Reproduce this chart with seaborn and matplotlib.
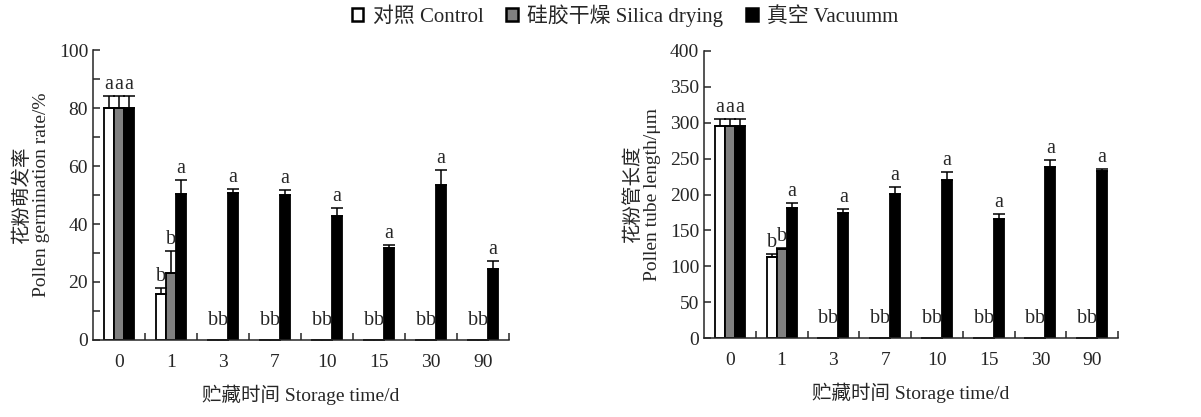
import pandas as pd
import matplotlib
matplotlib.use('Agg')
import matplotlib.pyplot as plt
import seaborn as sns
from matplotlib.ticker import MultipleLocator, FixedLocator

# Daten
times = ['0', '1', '3', '7', '10', '15', '30', '90']
treatments = ['对照 Control', '硅胶干燥 Silica drying', '真空 Vacuumm']
colors = ['white', '#808080', 'black']

germ_control = [80, 15.7, 0, 0, 0, 0, 0, 0]
germ_silica = [80, 23.2, 0, 0, 0, 0, 0, 0]
germ_vacuum = [80, 50.2, 50.6, 50.1, 42.8, 31.6, 53.6, 24.5]
germ_err_control = [4.1, 2.3, 0, 0, 0, 0, 0, 0]
germ_err_silica = [4.1, 7.6, 0, 0, 0, 0, 0, 0]
germ_err_vacuum = [4.1, 5.0, 1.6, 1.6, 2.8, 1.2, 5.0, 2.8]

tube_control = [295.5, 113.3, 0, 0, 0, 0, 0, 0]
tube_silica = [295.5, 124.5, 0, 0, 0, 0, 0, 0]
tube_vacuum = [295.5, 181.6, 174.7, 200.7, 219.8, 166.3, 238.8, 232.8]
tube_err_control = [9.5, 3.3, 0, 0, 0, 0, 0, 0]
tube_err_silica = [9.5, 1.5, 0, 0, 0, 0, 0, 0]
tube_err_vacuum = [9.5, 7.0, 5.1, 10.2, 11.1, 6.5, 9.7, 2.3]

letters_control = ['a', 'b', 'b', 'b', 'b', 'b', 'b', 'b']
letters_silica = ['a', 'b', 'b', 'b', 'b', 'b', 'b', 'b']
letters_vacuum = ['a', 'a', 'a', 'a', 'a', 'a', 'a', 'a']

sns.set_style('ticks')
plt.rcParams['font.family'] = ['Liberation Serif', 'Noto Sans CJK SC']
plt.rcParams['font.size'] = 14
plt.rcParams['axes.linewidth'] = 1.1


def long_table(a, b, c):
    rows = []
    for tr, vals in zip(treatments, [a, b, c]):
        for t, v in zip(times, vals):
            rows.append({'time': t, 'treatment': tr, 'value': v})
    return pd.DataFrame(rows)


def draw_panel(ax, df, errs, ymax, ystep, yminor, ylabel):
    sns.barplot(data=df, x='time', y='value', hue='treatment', order=times,
                hue_order=treatments, palette=colors, saturation=1,
                edgecolor='black', linewidth=1.3, width=0.58, errorbar=None, ax=ax)
    letters = [letters_control, letters_silica, letters_vacuum]
    for cont, err, lets in zip(ax.containers, errs, letters):
        xs = [p.get_x() + p.get_width() / 2 for p in cont]
        hs = [p.get_height() for p in cont]
        ax.errorbar(xs, hs, yerr=[[0] * len(err), err], fmt='none', ecolor='black',
                    elinewidth=1.1, capsize=4, capthick=1.1)
        for x, h, e, l in zip(xs, hs, err, lets):
            if h == 0:
                ax.annotate(l, (x, 0), xytext=(0, 11), textcoords='offset points',
                            ha='center', va='baseline', fontsize=14.5)
            else:
                ax.annotate(l, (x, h + e), xytext=(0, 5), textcoords='offset points',
                            ha='center', va='baseline', fontsize=14.5)
    ax.get_legend().remove()
    ax.set_xlim(-0.5, 7.5)
    ax.set_ylim(0, ymax)
    ax.yaxis.set_major_locator(MultipleLocator(ystep))
    if yminor:
        ax.yaxis.set_minor_locator(MultipleLocator(yminor))
    ax.xaxis.set_minor_locator(FixedLocator([i + 0.5 for i in range(8)]))
    ax.tick_params(axis='x', which='major', length=0, pad=10, labelsize=14)
    ax.tick_params(axis='x', which='minor', direction='in', length=5, width=1.1)
    ax.tick_params(axis='y', which='both', direction='in', length=5, width=1.1, labelsize=14)
    sns.despine(ax=ax)
    ax.set_xlabel('贮藏时间 Storage time/d', fontsize=14, labelpad=10)
    ax.set_ylabel(ylabel, fontsize=14, labelpad=6)


fig = plt.figure(figsize=(12.01, 4.17), dpi=100)
ax1 = fig.add_axes([0.0774, 0.1847, 0.3464, 0.6953])
ax2 = fig.add_axes([0.5862, 0.1894, 0.3447, 0.6883])

draw_panel(ax1, long_table(germ_control, germ_silica, germ_vacuum),
           [germ_err_control, germ_err_silica, germ_err_vacuum], 100, 20, 10,
           '花粉萌发率\nPollen germination rate/%')
draw_panel(ax2, long_table(tube_control, tube_silica, tube_vacuum),
           [tube_err_control, tube_err_silica, tube_err_vacuum], 400, 50, None,
           '花粉管长度\nPollen tube length/μm')

handles = [plt.Rectangle((0, 0), 1, 1, facecolor=c, edgecolor='black', linewidth=1.8) for c in colors]
fig.legend(handles, treatments, loc='center', bbox_to_anchor=(0.5205, 0.962), ncol=3,
           frameon=False, handlelength=0.55, handleheight=0.55, handletextpad=0.45,
           columnspacing=1.1, fontsize=15)

fig.savefig('out.png', dpi=100)
